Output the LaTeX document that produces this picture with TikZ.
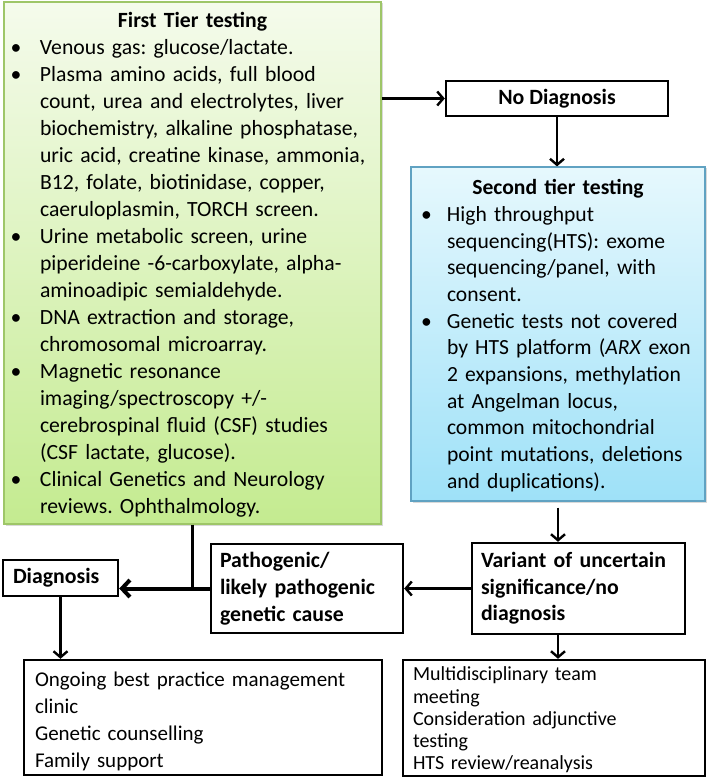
\documentclass[tikz,border=0pt]{standalone}
\usepackage{fontspec}
\setmainfont{Carlito}
\usepackage{tikz}
\usetikzlibrary{arrows.meta,shadows}
\frenchspacing

\definecolor{tieronetop}{RGB}{245,251,236}
\definecolor{tieronebot}{RGB}{196,235,144}
\definecolor{tieroneline}{RGB}{158,198,104}
\definecolor{tiertwotop}{RGB}{230,248,253}
\definecolor{tiertwobot}{RGB}{158,225,248}
\definecolor{tiertwoline}{RGB}{96,162,194}

\begin{document}
\begin{tikzpicture}
  [x=1pt,y=-1pt,
   >={Straight Barb[length=6pt,width=14pt]},
   every node/.style={font=\fontsize{21}{27}\selectfont},
   box/.style={draw,line width=2.4pt,align=left,inner ysep=0pt},
   tierone/.style={draw=tieroneline,line width=1.2pt,top color=tieronetop,bottom color=tieronebot,
     align=left,inner ysep=0pt,drop shadow={shadow xshift=1.5pt,shadow yshift=-1.5pt,opacity=.3}},
   tiertwo/.style={draw=tiertwoline,line width=1.2pt,top color=tiertwotop,bottom color=tiertwobot,
     align=left,inner ysep=0pt,drop shadow={shadow xshift=1.5pt,shadow yshift=-1.5pt,opacity=.3}},
   link/.style={line width=2.4pt,->}]
  \useasboundingbox (0,0) rectangle (709,778);

  \node[tierone,minimum width=377pt,minimum height=522pt,text width=364pt,inner xsep=6.5pt,
        font=\fontsize{21.7}{27}\selectfont] (tier1) at (192.5,263) {%
    {\centering\bfseries\rule{0pt}{24pt}First Tier testing\par}
    \noindent\begin{tabular}[t]{@{}p{29.5pt}@{}l@{}}
    \textbullet & Venous gas: glucose/lactate.\\
    \textbullet & Plasma amino acids, full blood\\
     & count, urea and electrolytes, liver\\
     & biochemistry, alkaline phosphatase,\\
     & uric acid, creatine kinase, ammonia,\\
     & B12, folate, biotinidase, copper,\\
     & caeruloplasmin, TORCH screen.\\
    \textbullet & Urine metabolic screen, urine\\
     & piperideine -6-carboxylate, alpha-\\
     & aminoadipic semialdehyde.\\
    \textbullet & DNA extraction and storage,\\
     & chromosomal microarray.\\
    \textbullet & Magnetic resonance\\
     & imaging/spectroscopy +/-\\
     & cerebrospinal fluid (CSF) studies\\
     & (CSF lactate, glucose).\\
    \textbullet & Clinical Genetics and Neurology\\
     & reviews. Ophthalmology.
    \end{tabular}};

  \node[box,minimum width=222pt,minimum height=35pt,font=\fontsize{21.8}{27}\selectfont\bfseries] (nodiag) at (557,98.5) {No Diagnosis};

  \node[tiertwo,minimum width=294pt,minimum height=334pt,text width=274pt,inner xsep=10pt,
        font=\fontsize{21.6}{26.7}\selectfont] (tier2) at (558,334) {%
    {\centering\bfseries\rule{0pt}{23pt}Second tier testing\par}
    \noindent\begin{tabular}[t]{@{}p{26pt}@{}l@{}}
    \textbullet & High throughput\\
     & sequencing(HTS): exome\\
     & sequencing/panel, with\\
     & consent.\\
    \textbullet & Genetic tests not covered\\
     & by HTS platform (\textit{ARX} exon\\
     & 2 expansions, methylation\\
     & at Angelman locus,\\
     & common mitochondrial\\
     & point mutations, deletions\\
     & and duplications).
    \end{tabular}};

  \node[box,minimum width=213pt,minimum height=91pt,text width=195pt,inner xsep=9pt,font=\fontsize{21.8}{26.5}\selectfont\bfseries] (variant) at (578.5,588.5)
    {Variant of uncertain\\ significance/no\\ diagnosis};
  \node[box,minimum width=192pt,minimum height=89pt,text width=174pt,inner xsep=9pt,font=\fontsize{21.8}{27}\selectfont\bfseries] (patho) at (307,588.5)
    {Pathogenic/\\ likely pathogenic\\ genetic cause};
  \node[box,minimum width=115pt,minimum height=36pt,text width=95pt,inner xsep=10pt,font=\fontsize{21.8}{27}\selectfont\bfseries] (diag) at (60.5,578)
    {Diagnosis};

  \node[box,minimum width=358pt,minimum height=115pt,text width=336pt,inner xsep=11pt] (mgmt) at (203,717.5)
    {\rule{0pt}{22pt}Ongoing best practice management\\ clinic\\ Genetic counselling\\ Family support};
  \node[box,minimum width=302pt,minimum height=116pt,text width=282pt,inner xsep=10pt,font=\fontsize{20}{22.25}\selectfont] (mdt) at (554,718)
    {\rule{0pt}{18pt}Multidisciplinary team\\ meeting\\ Consideration adjunctive\\ testing\\ HTS review/reanalysis};

  \draw[link] (tier1.east |- nodiag.west) -- (nodiag.west);
  \draw[link] (nodiag.south) -- (nodiag.south |- tier2.north);
  \draw[link,shorten <=6pt] (tier2.south) -- (tier2.south |- variant.north);
  \draw[link] (variant.west) -- (patho.east);
  \draw[line width=2.4pt] (tier1.south) -- (tier1.south |- patho.west);
  \draw[link,line width=4pt,>={Straight Barb[length=8pt,width=17pt]}] (patho.west) -- (patho.west -| diag.east);
  \draw[link] (diag.south) -- (diag.south |- mgmt.north);
  \draw[link] (tier2.south |- variant.south) -- (tier2.south |- mdt.north);

\end{tikzpicture}
\end{document}
